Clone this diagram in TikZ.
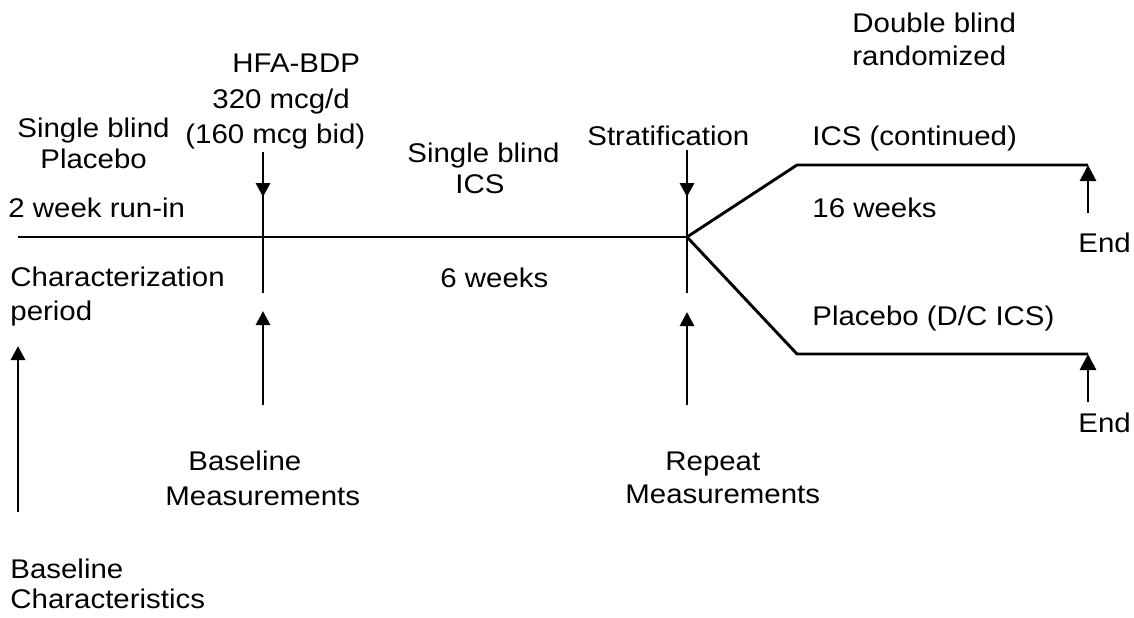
\documentclass[tikz,border=0pt]{standalone}
\usepackage{fontspec}
\setmainfont{Liberation Sans}[FakeStretch=1.09]
\usetikzlibrary{arrows.meta}
\begin{document}
\begin{tikzpicture}[x=0.5pt,y=-0.5pt,
  lbl/.style={anchor=base west,inner sep=0pt,font=\fontsize{13.5}{16}\selectfont},
  tl/.style={line width=1.45pt},
  arr/.style={line width=1.45pt,-{Triangle[length=7pt,width=7pt]}},
  endarr/.style={line width=1.45pt,-{Triangle[length=8pt,width=8pt]}}]
\useasboundingbox (0,0) rectangle (1134,617);
% coordinates
\coordinate (start) at (18,237);
\coordinate (split) at (687,237);
\coordinate (upk) at (797,165);
\coordinate (upe) at (1088,165);
\coordinate (dnk) at (797,354);
\coordinate (dne) at (1088,354);
\coordinate (h1) at (263,152);
\coordinate (h2) at (263,197);
\coordinate (h3) at (263,293);
\coordinate (bm1) at (263,405);
\coordinate (bm2) at (263,311);
\coordinate (s1) at (687,150);
\coordinate (s2) at (687,197);
\coordinate (s3) at (687,293);
\coordinate (rm1) at (687,405);
\coordinate (rm2) at (687,312);
\coordinate (bc1) at (18,512);
\coordinate (bc2) at (18,346);
\coordinate (e1) at (1088,213);
\coordinate (e2) at (1088,402);
% lines
\draw[tl] (start) -- (split);
\draw[tl,line join=miter] (split) -- (upk) -- (upe);
\draw[tl,line join=miter] (split) -- (dnk) -- (dne);
\draw[tl] (h1) -- (h3);
\draw[arr] (h1) -- (h2);
\draw[arr] (bm1) -- (bm2);
\draw[tl] (s1) -- (s3);
\draw[arr] (s1) -- (s2);
\draw[arr] (rm1) -- (rm2);
\draw[arr] (bc1) -- (bc2);
\draw[endarr] (e1) -- (upe);
\draw[endarr] (e2) -- (dne);
% labels
\node[lbl] (hfa) at (232,72) {HFA-BDP};
\node[lbl] (dose) at (212,108) {320 mcg/d};
\node[lbl] (bid) at (185,143) {(160 mcg bid)};
\node[lbl] (sb1) at (17,137) {Single blind};
\node[lbl] (plac) at (40,168) {Placebo};
\node[lbl] (runin) at (8,217) {2 week run-in};
\node[lbl] (char) at (10,286) {Characterization};
\node[lbl] (per) at (10,320) {period};
\node[lbl] (sb2) at (407,162) {Single blind};
\node[lbl] (ics) at (455,193) {ICS};
\node[lbl] (six) at (440,287) {6 weeks};
\node[lbl] (strat) at (587,145) {Stratification};
\node[lbl] (db) at (852,32) {Double blind};
\node[lbl] (rand) at (852,65) {randomized};
\node[lbl] (icsc) at (812,145) {ICS (continued)};
\node[lbl] (sixt) at (812,217) {16 weeks};
\node[lbl] (pdc) at (812,325) {Placebo (D/C ICS)};
\node[lbl] (end1) at (1078,252) {End};
\node[lbl] (end2) at (1078,432) {End};
\node[lbl] (bl1) at (188,470) {Baseline};
\node[lbl] (ms1) at (165,505) {Measurements};
\node[lbl] (rep) at (665,470) {Repeat};
\node[lbl] (ms2) at (625,503) {Measurements};
\node[lbl] (bl2) at (10,578) {Baseline};
\node[lbl] (chs) at (10,608) {Characteristics};
\end{tikzpicture}
\end{document}
